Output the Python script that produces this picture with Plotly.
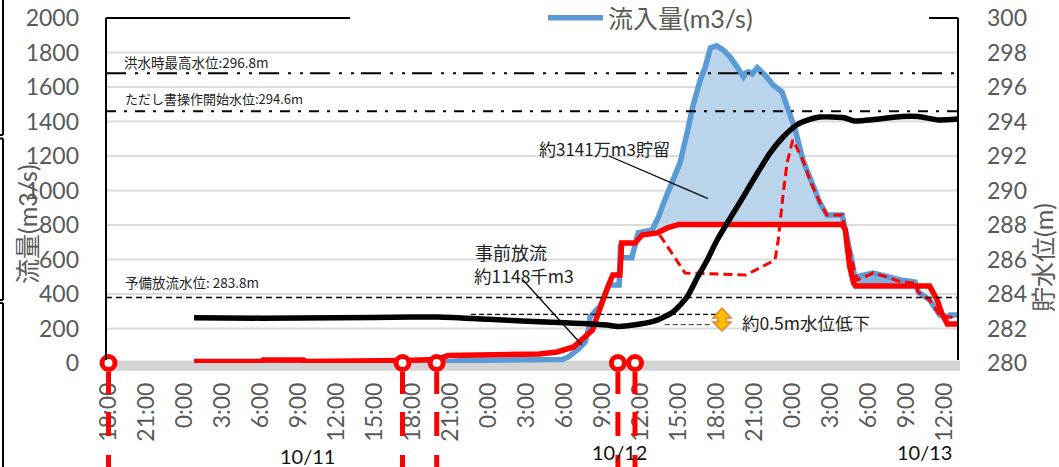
import plotly.graph_objects as go

# time = hours since 10/10 18:00
tick_hours = list(range(0, 67, 3))
tick_labels = ["18:00", "21:00", "0:00", "3:00", "6:00", "9:00", "12:00", "15:00", "18:00", "21:00",
               "0:00", "3:00", "6:00", "9:00", "12:00", "15:00", "18:00", "21:00",
               "0:00", "3:00", "6:00", "9:00", "12:00"]
flow_ticks = list(range(0, 2001, 200))
level_ticks = list(range(280, 301, 2))

inflow_h = [6.75, 26.0, 28.0, 32.5, 34.5, 35.8, 36.3, 37.0, 37.6, 37.9, 38.0, 38.8, 39.5, 40.3, 40.4, 40.5, 41.3, 41.6, 41.8,
            42.9, 43.4, 43.9, 44.55, 45.1, 45.66, 46.1, 46.7, 47.1, 47.5, 48.0, 48.5, 49.05, 49.6, 50.1, 50.3, 50.5, 50.8,
            51.2, 51.8, 52.45, 53.15, 53.55, 54.2, 54.8, 55.5, 56.15, 56.7, 57.9, 58.1, 58.35, 58.7, 58.9, 59.3, 60.35,
            61.45, 62.5, 63.65, 63.9, 64.8, 65.6, 66.2, 66.4, 67.0]
inflow = [0, 3, 15, 18, 18, 20, 35, 75, 120, 200, 267, 330, 452, 452, 690, 610, 610, 720, 754,
          771, 847, 945, 1073, 1160, 1334, 1485, 1641, 1717, 1827, 1839, 1815, 1775, 1717, 1659, 1682, 1688, 1676,
          1711, 1670, 1612, 1572, 1485, 1351, 1177, 1044, 928, 858, 858, 789, 713, 580, 493, 505, 522,
          499, 481, 470, 412, 365, 278, 267, 278, 278]

outflow_h = [6.75, 12.0, 12.2, 15.4, 15.6, 23.0, 23.3, 25.9, 26.8, 34.0, 35.4, 36.7, 37.45, 38.2, 38.55, 39.0, 39.4, 39.8,
             40.35, 40.5, 41.55, 42.1, 43.3, 44.1, 45.0, 57.9, 58.15, 58.3, 58.5, 58.8, 58.95, 64.8, 65.4, 65.75, 66.2, 67.0]
outflow = [8, 8, 17, 17, 8, 8, 15, 20, 43, 52, 64, 93, 145, 191, 267, 365, 441, 510,
           510, 696, 696, 742, 754, 783, 803, 803, 771, 672, 557, 464, 446, 446, 365, 290, 226, 226]

planned_h = [43.5, 45.5, 50.3, 52.6, 52.85, 53.0, 53.25, 53.55, 54.0, 54.8, 55.35, 56.15, 56.7, 57.9, 58.1, 58.35, 58.7, 59.1,
             60.35, 61.45, 62.5, 63.65, 63.9, 64.8, 65.6, 66.2, 66.5, 67.0]
planned = [742, 522, 510, 597, 713, 818, 986, 1160, 1293, 1177, 1061, 928, 858, 858, 789, 713, 580, 481,
           522, 499, 470, 464, 412, 365, 278, 267, 267, 226]

level_h = [6.75, 12, 18, 24, 26, 30, 33, 36, 39.35, 40.2, 41.95, 43.3, 44.55, 45.66, 46.45, 47.25, 48.03, 50.08, 51.2, 52.2,
           53.24, 54.3, 55.4, 56.15, 58.05, 58.85, 62.6, 63.9, 65.5, 67.0]
level = [282.62, 282.6, 282.62, 282.66, 282.66, 282.53, 282.42, 282.33, 282.2, 282.12, 282.26, 282.49, 282.96, 283.83,
         284.93, 285.97, 287.13, 289.62, 291.0, 292.17, 293.1, 293.8, 294.14, 294.26, 294.22, 294.03, 294.29, 294.29, 294.09, 294.14]

event_hours = [0, 23.2, 25.9, 40.2, 41.55]
ref_levels = [296.8, 294.6, 283.8]
ref_dashes = ["20px,9px,3px,9px,3px,7px", "10px,8px,3px,8px", "6px,4px"]
drop_h = [[28.6, 48.0], [43.9, 47.5]]
drop_levels = [282.82, 282.23]

BLUE, RED, GRAY = "#5b9bd5", "#ff0000", "#595959"
LATIN = "Lato, 'Noto Sans CJK JP', sans-serif"
SMALL = "'Noto Sans CJK JP', sans-serif"


def PX(x):
    return (x - 106) / 852


def PY(y):
    return (363 - y) / 345


def band(lo, hi):
    xs = [h for h in inflow_h if lo <= h <= hi] + [h for h in outflow_h if lo <= h <= hi][::-1]
    ys = [v for h, v in zip(inflow_h, inflow) if lo <= h <= hi] + [v for h, v in zip(outflow_h, outflow) if lo <= h <= hi][::-1]
    return xs, ys


fig = go.Figure()
for (lo, hi), colour in zip([(42.0, 58.15), (58.9, 63.7), (36.5, 38.2)], ["#bad4ec", "#7fb0de", "#fff2a8"]):
    xs, ys = band(lo, hi)
    fig.add_trace(go.Scatter(x=xs, y=ys, mode="lines", line=dict(width=0), fill="toself", fillcolor=colour,
                             showlegend=False, hoverinfo="skip"))

fig.add_trace(go.Scatter(x=inflow_h, y=inflow, mode="lines", name="流入量(m3/s)",
                         line=dict(color=BLUE, width=5.5, shape="linear"), cliponaxis=False, hoverinfo="skip"))
for lv, dash in zip(ref_levels, ref_dashes):
    fig.add_trace(go.Scatter(x=[-0.2, 67.04], y=[lv, lv], yaxis="y2", mode="lines", showlegend=False, hoverinfo="skip",
                             line=dict(color="black", width=2 if lv > 290 else 1.5, dash=dash)))
for hs, lv, col in zip(drop_h, drop_levels, ["black", "#555555"]):
    fig.add_trace(go.Scatter(x=hs, y=[lv, lv], yaxis="y2", mode="lines", showlegend=False, hoverinfo="skip",
                             line=dict(color=col, width=1.2, dash="5px,3px")))
fig.add_trace(go.Scatter(x=planned_h, y=planned, mode="lines", showlegend=False, hoverinfo="skip",
                         line=dict(color=RED, width=3, dash="9px,5px"), cliponaxis=False))
fig.add_trace(go.Scatter(x=level_h, y=level, yaxis="y2", mode="lines", showlegend=False, hoverinfo="skip",
                         line=dict(color="black", width=5.5, shape="spline", smoothing=0.6), cliponaxis=False))
fig.add_trace(go.Scatter(x=outflow_h, y=outflow, mode="lines", showlegend=False, hoverinfo="skip",
                         line=dict(color=RED, width=5.5), cliponaxis=False))
fig.add_trace(go.Scatter(x=event_hours, y=[0] * len(event_hours), mode="markers", showlegend=False, hoverinfo="skip",
                         marker=dict(size=13, color="white", line=dict(color=RED, width=5)), cliponaxis=False))

shapes = []
# gridlines and the grey category band
for v in flow_ticks:
    if 0 < v < 2000:
        shapes.append(dict(type="line", xref="paper", yref="y", x0=0, x1=1, y0=v, y1=v, layer="below",
                           line=dict(color="#dcdcdc", width=2)))
shapes.append(dict(type="rect", xref="paper", yref="paper", x0=0, x1=PX(960), y0=PY(360.5), y1=PY(370.7), layer="below",
                   fillcolor="#d4d4d4", line=dict(width=0)))


def seg(x0, y0, x1, y1, color="black", width=2):
    shapes.append(dict(type="line", xref="paper", yref="paper", x0=PX(x0), y0=PY(y0), x1=PX(x1), y1=PY(y1),
                       line=dict(color=color, width=width)))


# frame
seg(106, 18, 350, 18)
seg(929, 18, 958, 18)
seg(106, 18, 106, 360)
seg(958, 18, 958, 360)
# stray frame pieces at the left edge
seg(3, 0, 3, 135)
seg(0, 135, 3, 135)
seg(0, 138.5, 3, 138.5)
seg(3, 138.5, 3, 300)
seg(0, 300, 3, 300)
seg(0, 303, 3, 303)
seg(3, 303, 3, 467)
# leaders
seg(609, 156, 708, 198.6, width=1.2)
seg(523, 280, 582, 345, width=1.2)
# event lines
for h in event_hours:
    for y0, y1 in [(372, 394), (412, 436), (455, 467)]:
        shapes.append(dict(type="line", xref="x", yref="paper", x0=h, x1=h, y0=PY(y0), y1=PY(y1),
                           line=dict(color=RED, width=5)))
# double arrow
pts = [(722, 308), (731, 318), (726, 318), (726, 322), (731, 322), (722, 331), (713, 322), (718, 322), (718, 318), (713, 318)]
shapes.append(dict(type="path", xref="paper", yref="paper",
                   path="M " + " L ".join(f"{PX(a):.5f},{PY(b):.5f}" for a, b in pts) + " Z",
                   fillcolor="#ffc000", line=dict(color="#ed7d31", width=1.5)))


def note(x, y, text, size, family=SMALL, color="#222222", anchor="left", angle=0):
    return dict(xref="paper", yref="paper", x=PX(x), y=PY(y), text=text, showarrow=False, xanchor=anchor, yanchor="middle",
                textangle=angle, font=dict(family=family, size=size, color=color))


annotations = [
    note(122, 62, "洪水時最高水位:296.8m", 13.5),
    note(123, 99, "ただし書操作開始水位:294.6m", 13),
    note(123, 282, "予備放流水位: 283.8m", 13.5),
    note(473, 252, "事前放流", 18),
    note(472, 275.5, "約1148千m3", 17.5),
    note(537, 148, "約3141万m3貯留", 17),
    note(739.5, 322, "約0.5m水位低下", 17.5),
    note(307, 456, "10/11", 20, LATIN, "#111111", "center"),
    note(619, 452, "10/12", 20, LATIN, "#111111", "center"),
    note(924.5, 452, "10/13", 20, LATIN, "#111111", "center"),
    note(27, 224, "流量(m3/s)", 25, LATIN, GRAY, "center", -90),
    note(1043, 258, "貯水位(m)", 25, LATIN, GRAY, "center", -90),
]

fig.update_layout(
    width=1059, height=467, autosize=False,
    margin=dict(l=106, r=101, t=18, b=104, autoexpand=False),
    paper_bgcolor="white", plot_bgcolor="white",
    xaxis=dict(range=[-0.2, 67.04], tickmode="array", tickvals=tick_hours, ticktext=tick_labels, tickangle=-90,
               ticks="", ticklabelstandoff=14, showgrid=False, zeroline=False, showline=False,
               tickfont=dict(family=LATIN, size=23, color=GRAY)),
    yaxis=dict(range=[0, 2000], tickmode="array", tickvals=flow_ticks, showgrid=False, zeroline=False, showline=False,
               ticks="", ticklabelstandoff=26, tickfont=dict(family=LATIN, size=23, color=GRAY)),
    yaxis2=dict(range=[280, 300], overlaying="y", side="right", tickmode="array", tickvals=level_ticks, showgrid=False,
                zeroline=False, showline=False, ticks="", ticklabelstandoff=28,
                tickfont=dict(family=LATIN, size=23, color=GRAY)),
    legend=dict(x=PX(543), y=PY(18), xanchor="left", yanchor="middle", bgcolor="rgba(0,0,0,0)", itemwidth=55,
                font=dict(family=LATIN, size=25, color=GRAY), borderwidth=0),
    showlegend=True,
    shapes=shapes,
    annotations=annotations,
)

fig.write_html("out.html", config={"displayModeBar": False},
               post_script="document.body.style.margin='0';document.body.style.overflow='hidden';")
